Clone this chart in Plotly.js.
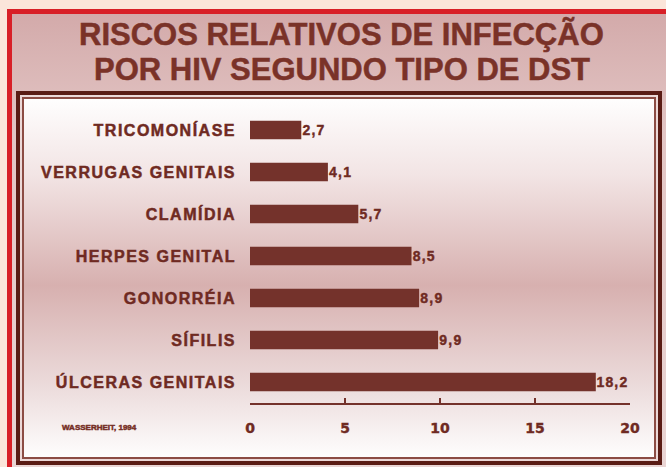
<!DOCTYPE html>
<html>
<head>
<meta charset="utf-8">
<script src="https://cdn.plot.ly/plotly-3.0.1.min.js"></script>
<style>
  body { margin: 0; background: #fbe5da; }
  #wrap { position: relative; width: 666px; height: 467px; overflow: hidden; }
  #redFrame {
    position: absolute; left: 7px; top: 9px; width: 680px; height: 480px;
    border: 5px solid #d81f27;
    background: linear-gradient(#d3aaaa, #e3c6c5 25%, #ead6d5 100%);
  }
  #innerFrame {
    position: absolute; left: 16px; top: 91px; width: 638px; height: 366px;
    border: 4px solid #5a1c15;
    box-shadow: inset 0 0 0 2px #ecd9d8, inset 0 0 0 4px #8c4c44;
    background: linear-gradient(#ffffff 0%, #f2e4e4 22%, #d7b0af 52%, #ecdcdc 80%, #ffffff 100%);
  }
  #lifeChart { position: absolute; left: 0; top: 0; width: 666px; height: 467px; }
  /* the original lettering is widely spaced and heavy */
  #lifeChart .ytick text { letter-spacing: 1.5px; stroke: #6f2a22; stroke-width: 0.5px; }
  #lifeChart .xtick text { stroke: #6f2a22; stroke-width: 0.4px; }
  #lifeChart .bartext { letter-spacing: 1.2px; stroke: #6f2a22; stroke-width: 0.4px; }
  #lifeChart .annotation text { stroke: #7a3228; stroke-width: 0.5px; }
  #lifeChart .annotation:nth-child(3) text { letter-spacing: 1px; stroke-width: 0.3px; }
</style>
</head>
<body>
<div id="wrap">
  <div id="redFrame"></div>
  <div id="innerFrame"></div>
  <div id="lifeChart"></div>
</div>
<script>
//Chart data
const categories = ["TRICOMONÍASE", "VERRUGAS GENITAIS", "CLAMÍDIA", "HERPES GENITAL", "GONORRÉIA", "SÍFILIS", "ÚLCERAS GENITAIS"];
const riskValues = [2.7, 4.1, 5.7, 8.5, 8.9, 9.9, 18.2];
const xTicks = [0, 5, 10, 15, 20];
const titleLines = ["RISCOS RELATIVOS DE INFECÇÃO", "POR HIV SEGUNDO TIPO DE DST"];
const sourceNote = "WASSERHEIT, 1994";

const brown = "#74322b";
const textBrown = "#6f2a22";

var barTrace = {
    type: 'bar',
    orientation: 'h',
    x: riskValues,
    y: categories,
    width: 0.44,
    marker: { color: brown, line: { width: 0 } },
    texttemplate: '%{x:.1f}',
    textposition: 'outside',
    cliponaxis: false,
    textfont: { family: 'Liberation Sans', size: 14, weight: 'bold', color: textBrown },
    hoverinfo: 'none'
};

var layout = {
    width: 666,
    height: 467,
    margin: { l: 250, r: 36, t: 109, b: 64 },
    paper_bgcolor: 'rgba(0,0,0,0)',
    plot_bgcolor: 'rgba(0,0,0,0)',
    separators: ',.',
    showlegend: false,
    xaxis: {
        range: [0, 20],
        tickvals: xTicks,
        ticktext: xTicks.map(String),
        showgrid: false,
        zeroline: false,
        showline: true,
        linecolor: brown,
        linewidth: 1.5,
        ticks: 'inside',
        ticklen: 5,
        tickwidth: 1.5,
        tickcolor: brown,
        ticklabelstandoff: 12,
        tickfont: { family: 'DejaVu Sans', size: 14, weight: 'bold', color: textBrown }
    },
    yaxis: {
        autorange: 'reversed',
        showgrid: false,
        zeroline: false,
        showline: false,
        ticks: '',
        ticklabelstandoff: 13,
        tickfont: { family: 'Liberation Sans', size: 16, weight: 'bold', color: textBrown }
    },
    annotations: [
        {
            text: titleLines[0], xref: 'paper', yref: 'paper', x: 0.242, y: 1.252,
            xanchor: 'center', yanchor: 'middle', showarrow: false,
            font: { family: 'Liberation Sans', size: 31, weight: 'bold', color: '#7a3228' }
        },
        {
            text: titleLines[1], xref: 'paper', yref: 'paper', x: 0.243, y: 1.133,
            xanchor: 'center', yanchor: 'middle', showarrow: false,
            font: { family: 'Liberation Sans', size: 31, weight: 'bold', color: '#7a3228' }
        },
        {
            text: sourceNote, xref: 'paper', yref: 'paper', x: -0.395, y: -0.085,
            xanchor: 'center', yanchor: 'middle', showarrow: false,
            font: { family: 'Liberation Sans', size: 8, weight: 'bold', color: textBrown }
        }
    ]
};

Plotly.newPlot('lifeChart', [barTrace], layout, { staticPlot: true, displayModeBar: false });
</script>
</body>
</html>
